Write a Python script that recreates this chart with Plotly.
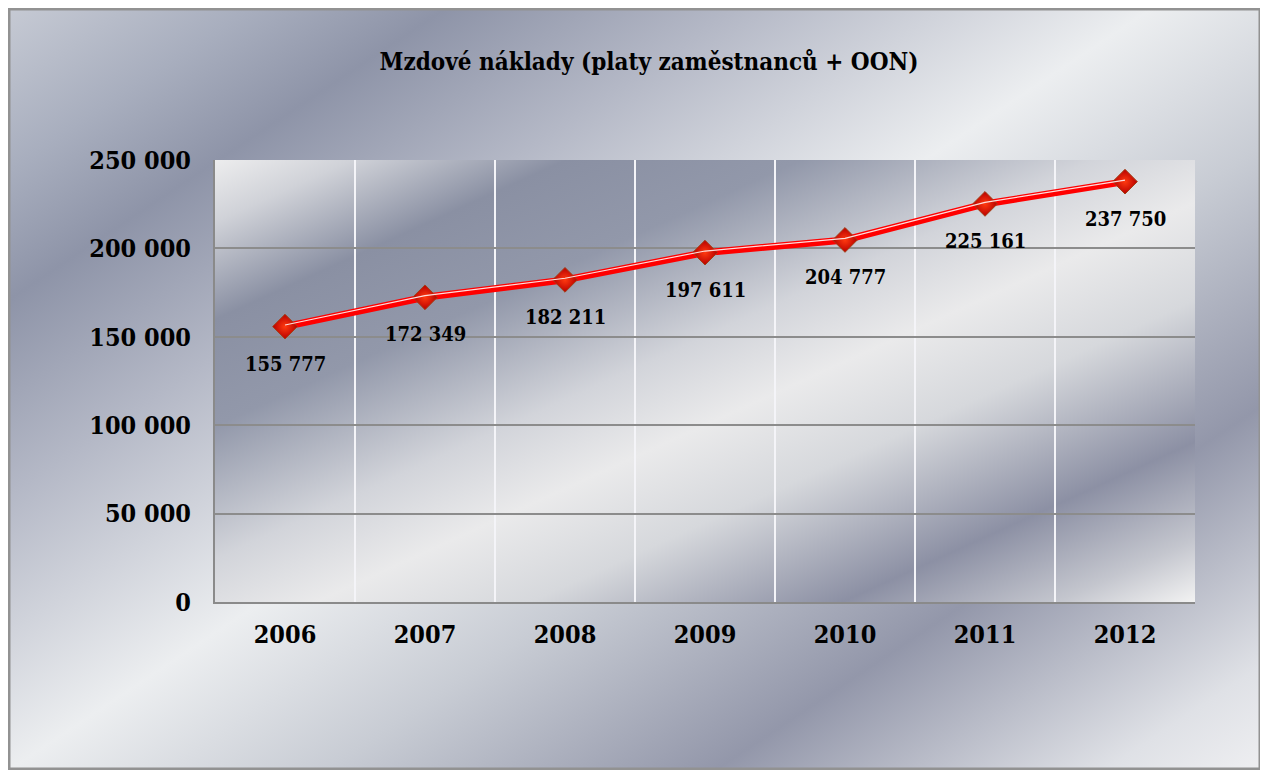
import base64
import plotly.graph_objects as go

# ---- data ----
years = ["2006", "2007", "2008", "2009", "2010", "2011", "2012"]
values = [155777, 172349, 182211, 197611, 204777, 225161, 237750]
y_ticks = [0, 50000, 100000, 150000, 200000, 250000]
title_text = "Mzdové náklady (platy zaměstnanců + OON)"

# ---- layout geometry (figure sits 8px inside the page because of body margin) ----
W, H = 1253, 762
ML, MR, MT, MB = 207, 66, 152, 168
PW, PH = W - ML - MR, H - MT - MB
FONT = "DejaVu Serif Condensed, DejaVu Serif, serif"


def svg_uri(w, h, x2, y2, stops):
    st = "".join(f'<stop offset="{o}" stop-color="{c}"/>' for o, c in stops)
    svg = (f'<svg xmlns="http://www.w3.org/2000/svg" width="{w}" height="{h}" '
           f'viewBox="0 0 {w} {h}" preserveAspectRatio="none"><defs>'
           f'<linearGradient id="g" gradientUnits="userSpaceOnUse" x1="0" y1="0" '
           f'x2="{x2}" y2="{y2}">{st}</linearGradient></defs>'
           f'<rect width="{w}" height="{h}" fill="url(#g)"/></svg>')
    return "data:image/svg+xml;base64," + base64.b64encode(svg.encode()).decode()


outer_stops = [(0, "#c6cad4"), (0.1, "#a8aebe"), (0.18, "#8e94a8"), (0.3, "#b4b8c6"),
               (0.47, "#eceef0"), (0.6, "#c8ccd4"), (0.76, "#9397aa"), (0.92, "#dfe1e6"),
               (1, "#f2f2f4")]
plot_stops = [(0, "#ededee"), (0.07, "#d0d2d8"), (0.18, "#8a90a3"), (0.30, "#9298aa"),
              (0.45, "#d2d4da"), (0.55, "#eaeaeb"), (0.66, "#d6d8dc"), (0.82, "#8c90a4"),
              (0.93, "#c4c6ce"), (1, "#f2f2f2")]

fig = go.Figure()

# main thick red line
fig.add_trace(go.Scatter(x=years, y=values, mode="lines",
                         line=dict(color="#ff0000", width=7), hoverinfo="skip",
                         showlegend=False))
# thin highlight line (on slightly shifted overlay axis)
fig.add_trace(go.Scatter(x=years, y=values, mode="lines", yaxis="y2",
                         line=dict(color="rgba(255,232,232,0.95)", width=1.2),
                         hoverinfo="skip", showlegend=False))
# diamond markers
fig.add_trace(go.Scatter(x=years, y=values, mode="markers",
                         marker=dict(symbol="diamond", size=19, color="#b80000",
                                     gradient=dict(type="radial", color="#ff3a10"),
                                     line=dict(color="#a04018", width=1)),
                         showlegend=False))

annotations = []
for i, v in enumerate(values):
    annotations.append(dict(x=i, y=v, xref="x", yref="y", showarrow=False,
                            text=f"{v:,}".replace(",", " "), yshift=-37,
                            font=dict(family=FONT, size=20, color="#000000", weight="bold")))

fig.update_layout(
    width=W, height=H,
    margin=dict(l=ML, r=MR, t=MT, b=MB),
    paper_bgcolor="#ffffff",
    plot_bgcolor="rgba(0,0,0,0)",
    separators=", ",
    title=dict(text=title_text, xref="container", yref="container",
               x=(649 - 8) / W, y=1 - 54 / H, xanchor="center", yanchor="middle",
               font=dict(family=FONT, size=24, color="#000000", weight="bold")),
    xaxis=dict(type="category", range=[-0.5, 6.5], tickson="boundaries",
               showgrid=True, gridcolor="#f4f4f8", gridwidth=1.5,
               showline=True, linecolor="#8a8a8a", linewidth=2, ticks="",
               ticklabelstandoff=9,
               tickfont=dict(family=FONT, size=25, color="#000000", weight="bold"),
               fixedrange=True),
    yaxis=dict(range=[0, 250000], tickvals=y_ticks, tickformat=",",
               showgrid=True, gridcolor="#8c8c8c", gridwidth=1.5, zeroline=False,
               showline=True, linecolor="#8a8a8a", linewidth=2, ticks="",
               ticklabelstandoff=17,
               tickfont=dict(family=FONT, size=25, color="#000000", weight="bold"),
               fixedrange=True),
    yaxis2=dict(range=[-900, 249100], overlaying="y", visible=False, fixedrange=True),
    annotations=annotations,
    images=[
        dict(source=svg_uri(W, H, 749, 1124, outer_stops), xref="paper", yref="paper",
             x=-ML / PW, y=1 + MT / PH, sizex=W / PW, sizey=H / PH,
             xanchor="left", yanchor="top", sizing="stretch", layer="below"),
        dict(source=svg_uri(PW, PH, 334, 735, plot_stops), xref="paper", yref="paper",
             x=0, y=1, sizex=1, sizey=1,
             xanchor="left", yanchor="top", sizing="stretch", layer="below"),
    ],
    shapes=[
        dict(type="rect", xref="paper", yref="paper", x0=-(ML - 1) / PW, x1=1 + (MR - 1) / PW,
             y0=-(MB - 1) / PH, y1=1 + (MT - 1) / PH, line=dict(color="#929292", width=3),
             fillcolor="rgba(0,0,0,0)", layer="above"),
    ],
)

fig.write_html("out.html")
